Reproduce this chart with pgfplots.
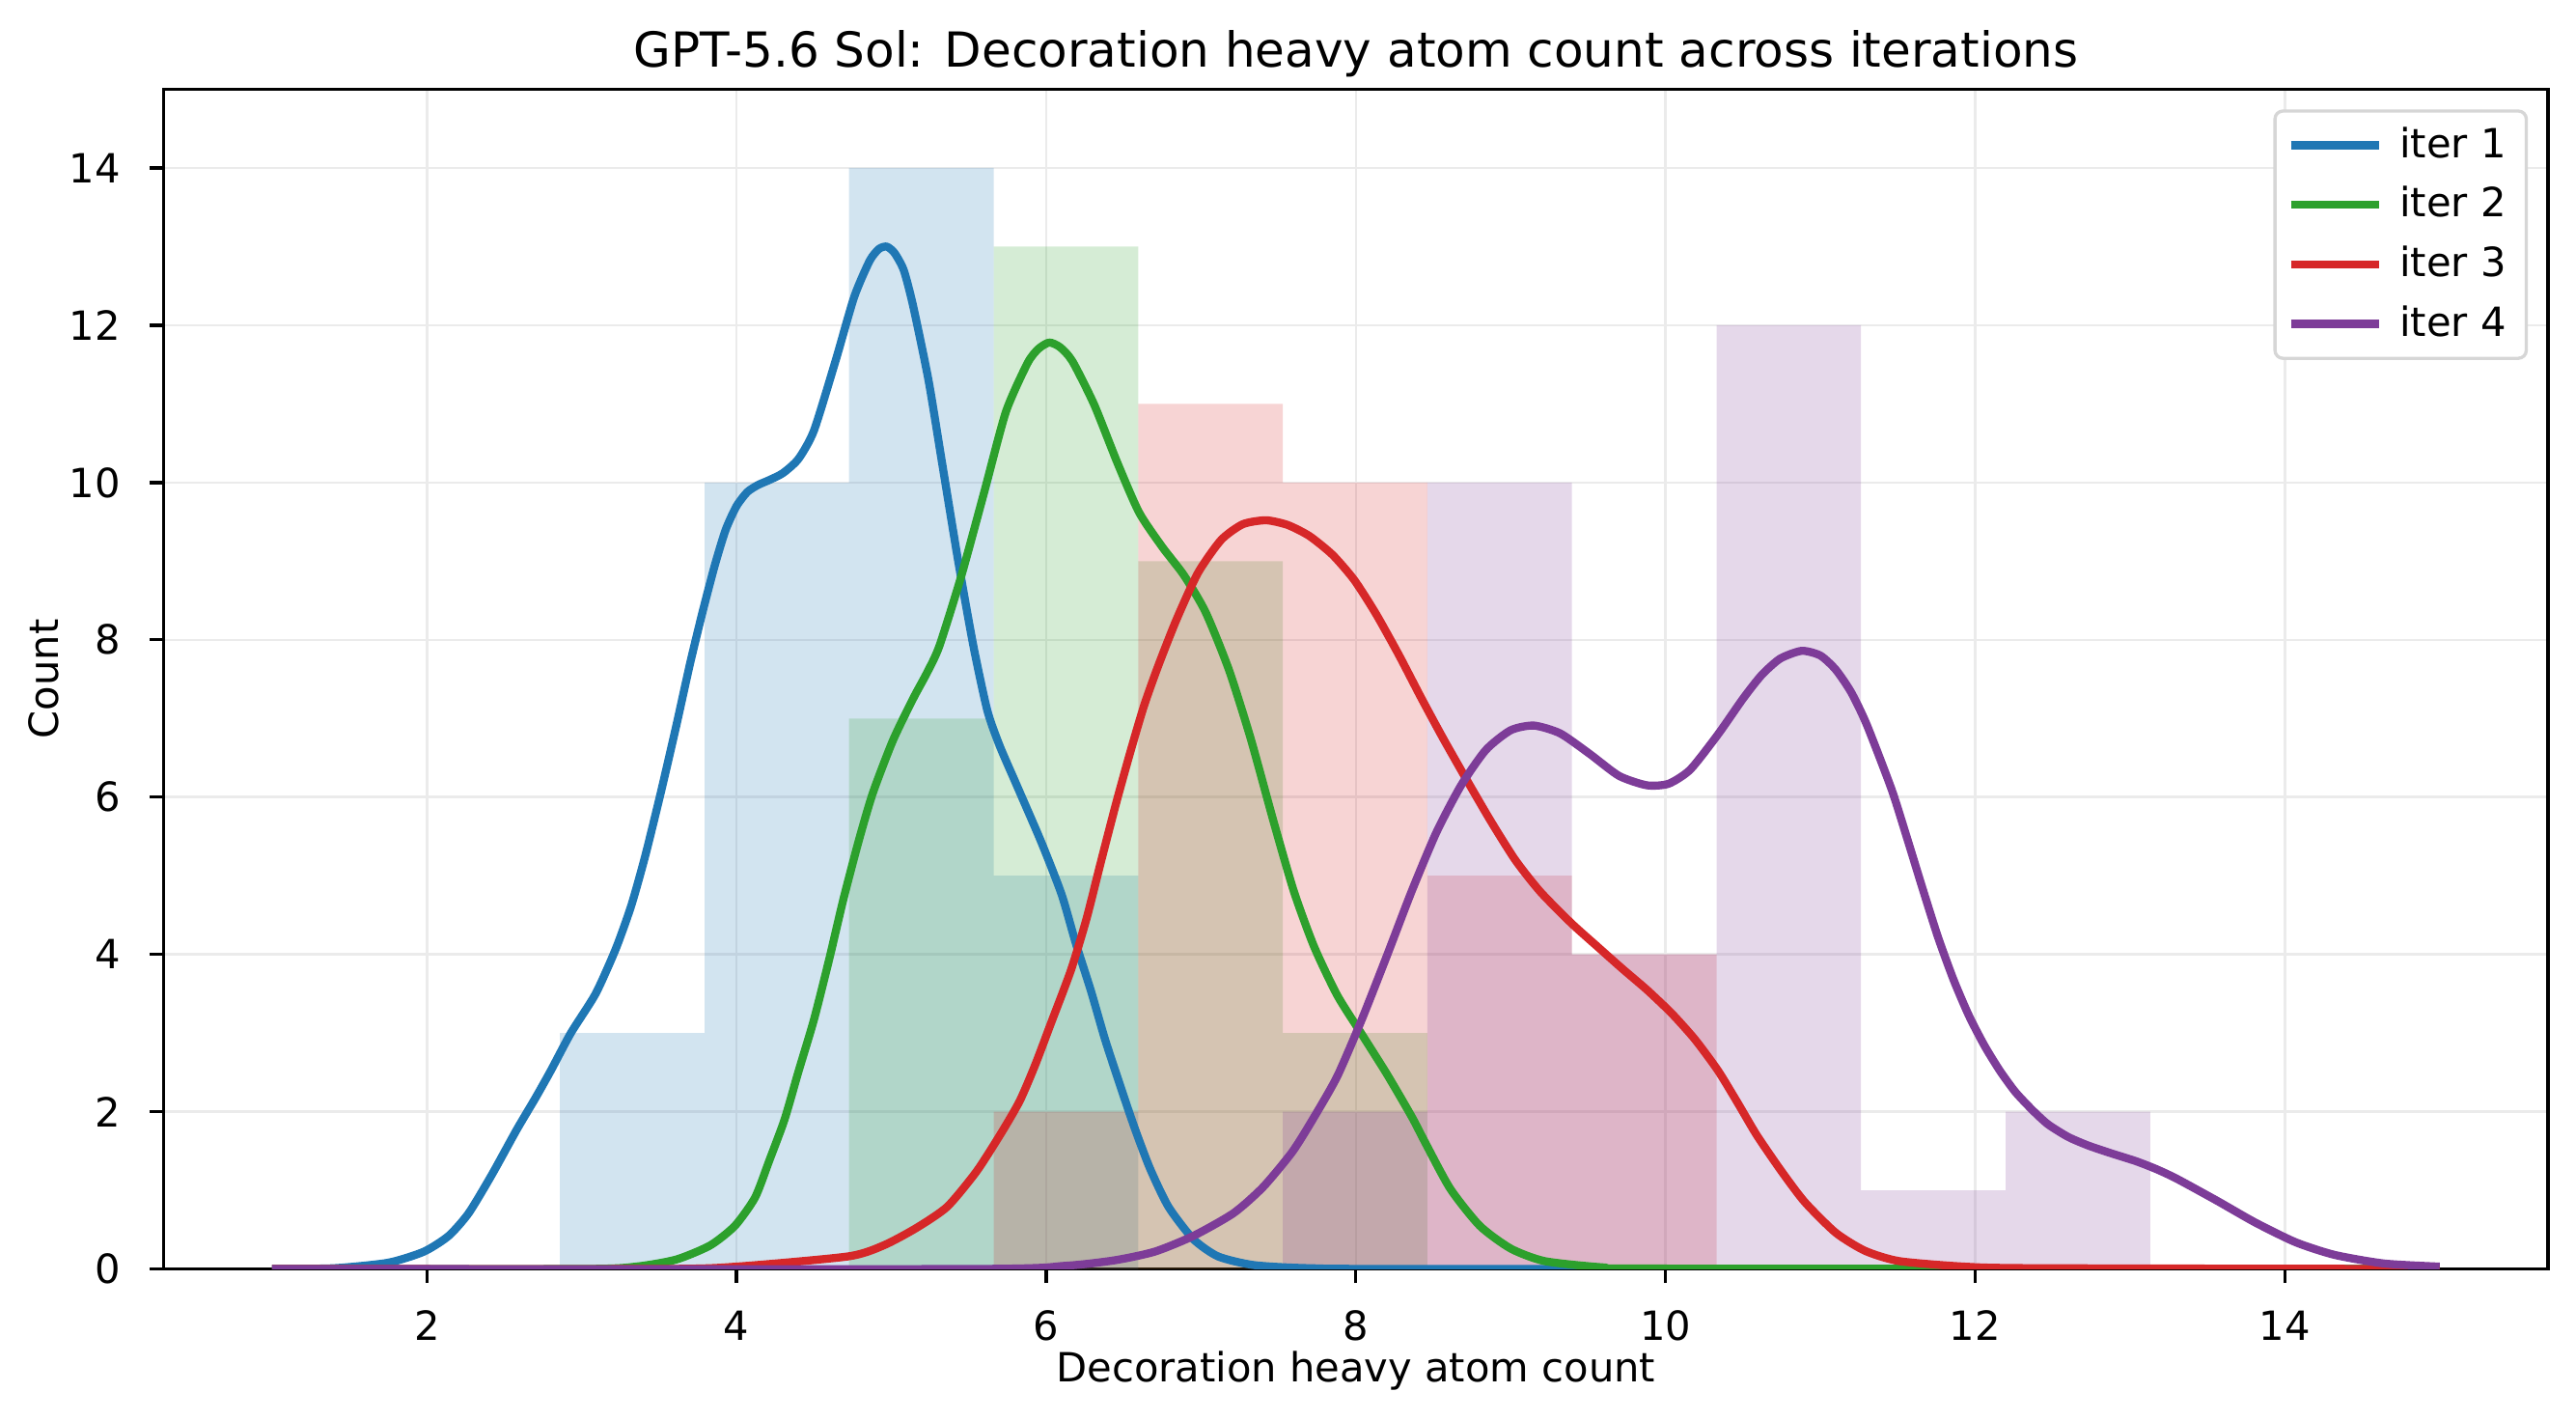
\documentclass[border=0pt]{standalone}
\usepackage{pgfplots}
\pgfplotsset{compat=1.18}
\usepackage{fontspec}
\setmainfont{DejaVu Sans}
\definecolor{cA}{HTML}{1F77B4}
\definecolor{cB}{HTML}{2CA02C}
\definecolor{cC}{HTML}{D62728}
\definecolor{cD}{HTML}{7D3C98}
\definecolor{gridc}{RGB}{235,235,235}
\definecolor{legc}{RGB}{214,214,214}
\begin{document}
\begin{tikzpicture}
\begin{axis}[
  name=ax,
  scale only axis,
  width=592.9pt, height=293.3pt,
  xmin=0.3, xmax=15.7, ymin=0, ymax=15,
  xtick={2,4,6,8,10,12,14},
  ytick={0,2,4,6,8,10,12,14},
  tick pos=left,
  tick align=outside,
  major tick length=3.5pt,
  every tick/.style={black, line width=0.8pt},
  axis line style={black, line width=0.8pt},
  grid=major,
  grid style={gridc, line width=0.6pt},
  /pgf/number format/assume math mode=true,
  ticklabel style={font=\fontsize{10}{12}\selectfont},
  xticklabel style={anchor=base, inner sep=0pt, yshift=-14.16pt},
  yticklabel style={anchor=east, inner sep=0pt, xshift=-7pt},
  every axis title/.style={at={(0.5,1)}, anchor=base, yshift=5.57pt, font=\fontsize{12}{14}\selectfont},
  title={GPT-5.6 Sol: Decoration heavy atom count across iterations},
  every axis x label/.style={at={(0.5,0)}, anchor=base, yshift=-28.1pt, font=\fontsize{10}{12}\selectfont},
  every axis y label/.style={at={(0,0.5)}, xshift=-26.1pt, rotate=90, anchor=base, font=\fontsize{10}{12}\selectfont},
  xlabel={Decoration heavy atom count},
  ylabel={Count},
  legend style={at={(1,1)}, anchor=north east, xshift=-5pt, yshift=-5pt,
    draw=legc, line width=0.8pt, rounded corners=2pt, fill=white,
    inner xsep=3pt, inner ysep=2pt, row sep=1.7pt, column sep=2pt,
    font=\fontsize{10}{12}\selectfont, cells={anchor=west}},
  legend image code/.code={\draw[#1, line width=2pt] (0pt,0pt) -- (22pt,0pt);},
]
% histograms (shared bin edges)
\addplot[const plot, fill=cA, fill opacity=0.2, draw=none, forget plot] coordinates {
(2.860,0) (2.860,3) (3.794,10) (4.727,14) (5.661,5) (6.595,5) (6.595,0)};
\addplot[const plot, fill=cB, fill opacity=0.2, draw=none, forget plot] coordinates {
(4.727,0) (4.727,7) (5.661,13) (6.595,9) (7.528,3) (8.462,3) (8.462,0)};
\addplot[const plot, fill=cC, fill opacity=0.2, draw=none, forget plot] coordinates {
(5.661,0) (5.661,2) (6.595,11) (7.528,10) (8.462,5) (9.396,4) (10.330,4) (10.330,0)};
\addplot[const plot, fill=cD, fill opacity=0.2, draw=none, forget plot] coordinates {
(7.528,0) (7.528,2) (8.462,10) (9.396,4) (10.330,12) (11.263,1) (12.197,2) (13.131,2) (13.131,0)};
% KDE curves
\addplot[cA, line width=2pt, smooth, tension=0.4, line join=round] coordinates {
(1.0,0.0) (1.4,0.01) (1.75,0.08) (1.98,0.22) (2.14,0.42) (2.27,0.71) (2.42,1.20)
(2.58,1.77) (2.70,2.17) (2.80,2.52) (2.93,3.0) (3.09,3.50) (3.22,4.07) (3.32,4.62)
(3.41,5.25) (3.51,6.05) (3.61,6.90) (3.70,7.70) (3.78,8.35) (3.86,8.95) (3.93,9.40)
(4.00,9.70) (4.07,9.88) (4.14,9.97) (4.21,10.03) (4.30,10.12) (4.40,10.30)
(4.50,10.66) (4.64,11.55) (4.76,12.36) (4.86,12.82) (4.92,12.97) (4.97,13.0)
(5.02,12.92) (5.08,12.70) (5.14,12.25) (5.24,11.30) (5.33,10.22) (5.43,9.02)
(5.53,7.92) (5.62,7.10) (5.70,6.65) (5.81,6.15) (5.97,5.42) (6.10,4.76) (6.19,4.15)
(6.29,3.53) (6.38,2.92) (6.48,2.32) (6.57,1.80) (6.67,1.28) (6.79,0.79) (6.95,0.38)
(7.11,0.16) (7.34,0.05) (7.7,0.01) (8.5,0.0) (15.0,0.0)};
\addlegendentry{iter 1}
\addplot[cB, line width=2pt, smooth, tension=0.4, line join=round] coordinates {
(1.0,0.0) (3.0,0.0) (3.35,0.03) (3.61,0.12) (3.83,0.30) (3.99,0.55) (4.12,0.91)
(4.21,1.37) (4.31,1.90) (4.40,2.51) (4.50,3.17) (4.60,3.95) (4.69,4.70) (4.79,5.45)
(4.88,6.05) (5.01,6.72) (5.14,7.25) (5.23,7.58) (5.31,7.92) (5.45,8.80) (5.60,9.88)
(5.74,10.90) (5.88,11.52) (5.95,11.70) (6.02,11.78) (6.09,11.72) (6.17,11.54)
(6.31,10.99) (6.46,10.25) (6.60,9.62) (6.75,9.18) (6.89,8.82) (7.03,8.35) (7.18,7.62)
(7.32,6.75) (7.47,5.68) (7.60,4.80) (7.73,4.10) (7.88,3.48) (8.04,2.98) (8.20,2.48)
(8.36,1.94) (8.45,1.60) (8.61,1.02) (8.80,0.55) (9.00,0.26) (9.22,0.10) (9.6,0.02)
(10.0,0.005) (15.0,0.0)};
\addlegendentry{iter 2}
\addplot[cC, line width=2pt, smooth, tension=0.4, line join=round] coordinates {
(1.0,0.0) (3.5,0.0) (4.0,0.03) (4.72,0.16) (4.95,0.30) (5.16,0.52) (5.36,0.79)
(5.55,1.24) (5.71,1.73) (5.83,2.14) (5.93,2.60) (6.03,3.12) (6.16,3.80) (6.26,4.45)
(6.35,5.15) (6.45,5.91) (6.54,6.55) (6.63,7.15) (6.72,7.65) (6.84,8.25) (6.98,8.85)
(7.13,9.27) (7.27,9.47) (7.42,9.52) (7.56,9.46) (7.70,9.32) (7.85,9.08) (7.99,8.76)
(8.13,8.33) (8.28,7.80) (8.42,7.27) (8.56,6.76) (8.71,6.24) (8.87,5.70) (9.03,5.20)
(9.19,4.80) (9.39,4.40) (9.56,4.10) (9.72,3.82) (9.88,3.55) (10.04,3.25) (10.19,2.92)
(10.34,2.52) (10.47,2.10) (10.59,1.70) (10.75,1.24) (10.90,0.85) (11.10,0.46)
(11.29,0.23) (11.51,0.10) (11.93,0.03) (12.4,0.01) (15.0,0.0)};
\addlegendentry{iter 3}
\addplot[cD, line width=2pt, smooth, tension=0.4, line join=round] coordinates {
(1.0,0.0) (5.5,0.0) (6.12,0.04) (6.44,0.11) (6.70,0.22) (6.95,0.42) (7.21,0.71)
(7.40,1.04) (7.59,1.49) (7.73,1.93) (7.88,2.45) (8.04,3.18) (8.20,3.98) (8.36,4.80)
(8.52,5.55) (8.68,6.15) (8.84,6.60) (9.00,6.85) (9.15,6.91) (9.32,6.81) (9.51,6.55)
(9.70,6.27) (9.88,6.15) (10.02,6.17) (10.16,6.35) (10.34,6.80) (10.50,7.25)
(10.62,7.55) (10.74,7.76) (10.88,7.86) (11.00,7.80) (11.10,7.62) (11.20,7.33)
(11.30,6.92) (11.46,6.10) (11.56,5.48) (11.66,4.84) (11.76,4.22) (11.86,3.68)
(11.96,3.22) (12.06,2.84) (12.16,2.52) (12.26,2.25) (12.37,2.02) (12.47,1.84)
(12.60,1.68) (12.73,1.57) (12.88,1.47) (13.04,1.37) (13.17,1.27) (13.30,1.15)
(13.56,0.87) (13.81,0.59) (14.07,0.34) (14.32,0.18) (14.64,0.07) (15.0,0.03)};
\addlegendentry{iter 4}
\end{axis}
\pgfresetboundingbox
\path[use as bounding box] ([xshift=-40.70pt,yshift=-37.32pt]ax.south west) rectangle ([xshift=6.96pt,yshift=22.2pt]ax.north east);
\end{tikzpicture}
\end{document}
